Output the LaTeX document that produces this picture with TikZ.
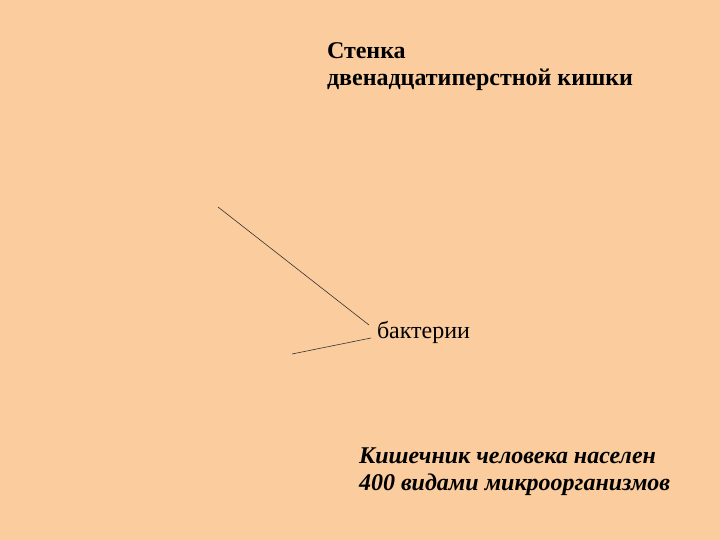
\documentclass[tikz,border=0pt]{standalone}
\usepackage{fontspec}
\setmainfont{Liberation Serif}
\usetikzlibrary{positioning}
\definecolor{peach}{RGB}{251,204,158}
\begin{document}
\begin{tikzpicture}[x=1pt,y=-1pt,
				caption/.style={anchor=base west,inner sep=0pt,outer sep=0pt,align=left,
					font=\fontsize{24}{27}\selectfont},
				heading/.style={caption,font=\fontsize{24}{27}\selectfont\bfseries},
				summary/.style={caption,font=\fontsize{24}{27}\selectfont\bfseries\itshape},
				pointer/.style={draw=black!80,line width=0.6pt}]
				\fill[peach] (0,0) rectangle (720,540);
				\useasboundingbox (0,0) rectangle (720,540);

				\node (WALL)     [heading] at (327,86)  {Стенка\\двенадцатиперстной кишки};
				\node (BACT)     [caption] at (377,338) {бактерии};
				\node (SUMMARY)  [summary] at (359,490) {Кишечник человека населен\\400 видами микроорганизмов};

				\coordinate (TOP) at (218,207);
				\coordinate (LOW) at (292,354);
				\draw[pointer] (TOP) -- ([shift={(-8,-13)}]BACT.base west);
				\draw[pointer] (LOW) -- ([shift={(-6,0)}]BACT.base west);
			\end{tikzpicture}
\end{document}
